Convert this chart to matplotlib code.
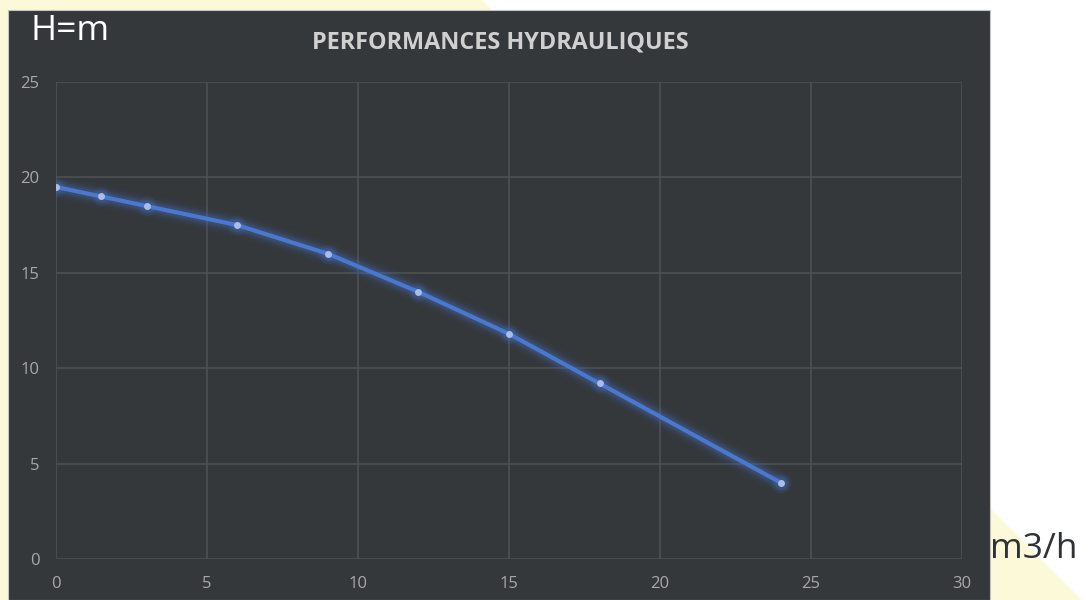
import matplotlib.pyplot as plt
from matplotlib.patches import Polygon, Rectangle

# debit (m3/h) / hauteur (m)
debit = [0, 1.5, 3, 6, 9, 12, 15, 18, 24]
hauteur = [19.5, 19.0, 18.5, 17.5, 16.0, 14.0, 11.8, 9.2, 4.0]
xticks = [0, 5, 10, 15, 20, 25, 30]
yticks = [0, 5, 10, 15, 20, 25]

W, H = 1084, 600
fig = plt.figure(figsize=(W / 100, H / 100), dpi=100)
fig.patch.set_facecolor('white')

# decor: yellow triangle behind, dark card on top (pixel coords)
tri = Polygon([(0 / W, 1), (482 / W, 1), (1082 / W, 0), (0, 0)],
              closed=True, transform=fig.transFigure, facecolor='#fbf9d8',
              edgecolor='none', zorder=0)
fig.patches.append(tri)
card = Rectangle((8 / W, 0), (990 - 8) / W, (600 - 10) / H,
                 transform=fig.transFigure, facecolor='#35383b',
                 edgecolor='#c4c4c4', linewidth=0.8, zorder=1)
fig.patches.append(card)

ax = fig.add_axes([56 / W, (600 - 559) / H, (962 - 56) / W, (559 - 82) / H])
ax.set_facecolor('none')
ax.set_zorder(2)

# glow under the line
for lw, a in [(16, 0.05), (12, 0.08), (9, 0.12), (6.5, 0.18)]:
    ax.plot(debit, hauteur, color='#4472c4', linewidth=lw, alpha=a,
            solid_capstyle='round', solid_joinstyle='round', zorder=3)
for ms, a in [(14, 0.12), (10, 0.2)]:
    ax.plot(debit, hauteur, linestyle='none', marker='o', markersize=ms,
            color='#4472c4', alpha=a, markeredgewidth=0, zorder=3)
ax.plot(debit, hauteur, color='#4a78d0', linewidth=3,
        solid_joinstyle='round', zorder=4)
ax.plot(debit, hauteur, linestyle='none', marker='o', markersize=5,
        color='#a9bcea', markeredgewidth=0, zorder=5)

ax.set_xlim(0, 30)
ax.set_ylim(0, 25)
ax.set_xticks(xticks)
ax.set_yticks(yticks)
ax.grid(True, color='#505356', linewidth=1.1)
ax.set_axisbelow(True)
for s in ax.spines.values():
    s.set_visible(False)
ax.tick_params(length=0, colors='#a8a8a8', labelsize=12)
ax.tick_params(axis='y', pad=12)
ax.tick_params(axis='x', pad=12)
for lab in ax.get_xticklabels() + ax.get_yticklabels():
    lab.set_family('Open Sans')

fig.text(500 / W, 1 - 42 / H, 'PERFORMANCES HYDRAULIQUES', ha='center',
         va='center', color='#d0d0d0', fontsize=16.8, fontweight='bold',
         family='Open Sans', zorder=5)
fig.text(30 / W, 1 - 31 / H, 'H=m', ha='left', va='center', color='white',
         fontsize=25.5, family='Open Sans', zorder=5)
fig.text(990 / W, 1 - 549 / H, 'm3/h', ha='left', va='center',
         color='#303336', fontsize=25.5, family='Open Sans', zorder=5)

fig.savefig('out.png', dpi=100)
